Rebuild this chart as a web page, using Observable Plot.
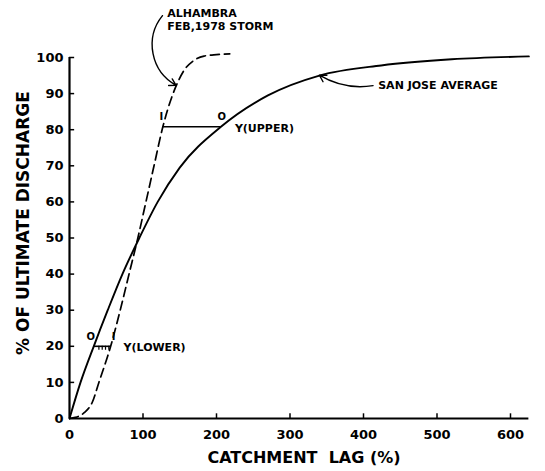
<!DOCTYPE html>
<html><head><meta charset="utf-8">
<script src="https://cdn.jsdelivr.net/npm/d3@7"></script>
<script src="https://cdn.jsdelivr.net/npm/@observablehq/plot@0.6"></script>
<style>html,body{margin:0;padding:0;background:#fff;} svg{display:block}</style>
</head><body><div id="chart"></div>
<script>
// San Jose average (solid)
const sanJoseLag = [0, 15, 33, 52, 72, 95, 120, 150, 206, 270, 340, 424, 520, 625];
const sanJosePct = [0, 10, 20, 30, 40, 50, 60, 69.5, 80.8, 89.5, 95, 97.8, 99.5, 100.3];
// Alhambra Feb 1978 storm (dashed)
const alhambraLag = [0, 8, 20, 31, 40, 56, 69, 81, 93, 104, 115, 127, 140, 147, 156, 168, 183, 200, 218];
const alhambraPct = [0, 0.3, 1.6, 4.5, 10, 20, 30, 40, 50, 60, 70, 80.8, 89.5, 93, 96.5, 99, 100.4, 100.8, 101];
// tick labels
const xTicks = [0, 100, 200, 300, 400, 500, 600];
const yTicks = [0, 10, 20, 30, 40, 50, 60, 70, 80, 90, 100];
// Y(upper) / Y(lower) segments
const segPct = [80.8, 20];
const segFrom = [127, 34];
const segTo = [206, 57];
const lowerHatch = [40, 44.5, 49, 53.5];
// I / O markers
const markText = ["I", "O", "O", "I"];
const markLag = [125, 207, 29, 60];
const markPct = [83.6, 83.6, 22.6, 22.6];
// annotations
const noteText = ["ALHAMBRA", "FEB,1978 STORM", "SAN JOSE AVERAGE", "Y(UPPER)", "Y(LOWER)"];
const noteLag = [133, 133, 420, 225, 73.5];
const notePct = [112.3, 108.7, 92.2, 80.3, 19.6];

const sanJose = sanJoseLag.map((x, i) => ({x, y: sanJosePct[i]}));
const alhambra = alhambraLag.map((x, i) => ({x, y: alhambraPct[i]}));
const segs = segPct.map((y, i) => ({y, x1: segFrom[i], x2: segTo[i]}));
const marks = markText.map((t, i) => ({t, x: markLag[i], y: markPct[i]}));
const notes = noteText.map((t, i) => ({t, x: noteLag[i], y: notePct[i]}));

const chart = Plot.plot({
  width: 545,
  height: 471,
  marginLeft: 69,
  marginRight: 35,
  marginTop: 57,
  marginBottom: 53,
  x: {domain: [0, 600], axis: null},
  y: {domain: [0, 100], axis: null},
  style: {fontFamily: "'DejaVu Sans', sans-serif", fontWeight: "bold", color: "#000", background: "#fff"},
  marks: [
    Plot.ruleY([0], {x1: 0, x2: 625, strokeWidth: 2.2}),
    Plot.ruleX([0], {y1: 0, y2: 100, strokeWidth: 2.2}),
    Plot.ruleX(xTicks.slice(1), {x: d => d, y1: 0, y2: 1.3, strokeWidth: 1.5}),
    Plot.ruleY(yTicks.slice(1), {y: d => d, x1: 0, x2: 7, strokeWidth: 1.5}),
    Plot.axisX(xTicks, {tickSize: 0, tickPadding: 11, label: null, fontSize: 13, fontWeight: "bold"}),
    Plot.axisY(yTicks, {tickSize: 0, tickPadding: 6, label: null, fontSize: 13, fontWeight: "bold"}),
    Plot.line(sanJose, {x: "x", y: "y", curve: "monotone-x", strokeWidth: 1.9}),
    Plot.line(alhambra, {x: "x", y: "y", curve: "monotone-x", strokeWidth: 1.7, strokeDasharray: "9,5"}),
    Plot.ruleY(segs, {y: "y", x1: "x1", x2: "x2", strokeWidth: 1.6}),
    Plot.ruleX(lowerHatch, {x: d => d, y1: segPct[1], y2: segPct[1] - 1.1, strokeWidth: 1.2}),
    Plot.text(marks, {x: "x", y: "y", text: "t", fontSize: 10, fontWeight: "bold"}),
    Plot.text(notes, {x: "x", y: "y", text: "t", textAnchor: "start", fontSize: 11, fontWeight: "bold"}),
    Plot.arrow([0], {x1: 126.5, y1: 111.6, x2: 145, y2: 92.3, bend: -50, strokeWidth: 1.4, headLength: 8}),
    Plot.arrow([0], {x1: 413, y1: 92.2, x2: 340, y2: 95.1, bend: 20, strokeWidth: 1.4, headLength: 8}),
    Plot.text(["% OF ULTIMATE DISCHARGE"], {frameAnchor: "left", textAnchor: "middle", dx: -46, dy: -15, rotate: -90, fontSize: 17, fontWeight: "bold", letterSpacing: 4.5}),
    Plot.text(["CATCHMENT  LAG (%)"], {frameAnchor: "bottom", textAnchor: "middle", dx: 14, dy: 44, fontSize: 16, fontWeight: "bold", letterSpacing: 1.5})
  ]
});
document.getElementById("chart").appendChild(chart);
</script>
</body></html>
